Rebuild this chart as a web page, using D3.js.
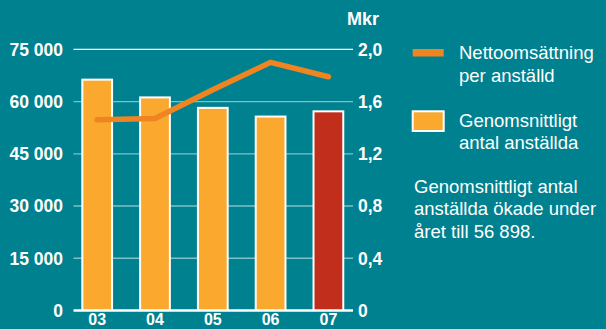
<!DOCTYPE html>
<html>
<head>
<meta charset="utf-8">
<script src="https://cdn.jsdelivr.net/npm/d3@7"></script>
<style>
html,body{margin:0;padding:0;background:#00818F;}
svg{display:block;}
text{font-family:"Liberation Sans",Arial,Helvetica,sans-serif;fill:#fff;}
</style>
</head>
<body>
<svg id="chart" width="606" height="329"></svg>
<script>
const categories = ["03", "04", "05", "06", "07"];
const employees = [66000, 60900, 57900, 55400, 56898];
const revenuePerEmployee = [1.46, 1.47, 1.69, 1.90, 1.79];
const leftTicks = [0, 15000, 30000, 45000, 60000, 75000];
const rightTicks = [0, 0.4, 0.8, 1.2, 1.6, 2.0];
const legendLabels = [["Nettoomsättning", "per anställd"], ["Genomsnittligt", "antal anställda"]];
const noteLines = ["Genomsnittligt antal", "anställda ökade under", "året till 56 898."];

const svg = d3.select("#chart");
const W = 606, H = 329;
svg.append("rect").attr("width", W).attr("height", H).attr("fill", "#00818F");

const y0 = 310.5, yTop = 49.3;
const yL = d3.scaleLinear().domain([0, 75000]).range([y0, yTop]);
const yR = d3.scaleLinear().domain([0, 2.0]).range([y0, yTop]);
const x = d3.scaleBand().domain(categories).range([68.3, 357.3]).paddingInner(0.52).paddingOuter(0.26);

const gx0 = 73.5, gx1 = 353;
const fmtL = d => d3.format(",")(d).replace(/,/g, " ");
const fmtR = d => d === 0 ? "0" : d3.format(".1f")(d).replace(".", ",");

// grid lines
svg.append("g").selectAll("line").data(leftTicks.filter(d => d > 0)).join("line")
  .attr("x1", gx0).attr("x2", gx1)
  .attr("y1", d => yL(d)).attr("y2", d => yL(d))
  .attr("stroke", d => d === 75000 ? "#ffffff" : "rgba(255,255,255,0.5)")
  .attr("stroke-width", 1.3);

// bars (white border + fill)
const bars = svg.append("g");
bars.selectAll("rect.border").data(employees).join("rect").attr("class", "border")
  .attr("x", (d, i) => x(categories[i]) - 2)
  .attr("y", d => yL(d) - 2)
  .attr("width", x.bandwidth() + 4)
  .attr("height", d => y0 - yL(d) + 2)
  .attr("fill", "#ffffff");
bars.selectAll("rect.fill").data(employees).join("rect").attr("class", "fill")
  .attr("x", (d, i) => x(categories[i]))
  .attr("y", d => yL(d))
  .attr("width", x.bandwidth())
  .attr("height", d => y0 - yL(d))
  .attr("fill", (d, i) => i === categories.length - 1 ? "#C12E1B" : "#FAA92E");

// baseline
svg.append("line").attr("x1", gx0).attr("x2", gx1).attr("y1", y0).attr("y2", y0)
  .attr("stroke", "#fff").attr("stroke-width", 2.5);

// line
const line = d3.line()
  .x((d, i) => x(categories[i]) + x.bandwidth() / 2)
  .y(d => yR(d));
svg.append("path").datum(revenuePerEmployee)
  .attr("d", line)
  .attr("fill", "none").attr("stroke", "#F08421")
  .attr("stroke-width", 5.5).attr("stroke-linecap", "round").attr("stroke-linejoin", "miter");

// left axis labels
svg.append("g").selectAll("text").data(leftTicks).join("text")
  .attr("x", 63).attr("y", d => yL(d) + 6.3)
  .attr("text-anchor", "end")
  .style("font-size", "17.5px").style("font-weight", "bold")
  .text(fmtL);

// right axis labels
svg.append("g").selectAll("text").data(rightTicks).join("text")
  .attr("x", 358).attr("y", d => yR(d) + 6.3)
  .attr("text-anchor", "start")
  .style("font-size", "17.5px").style("font-weight", "bold")
  .text(fmtR);

svg.append("text").attr("x", 347).attr("y", 25)
  .style("font-size", "18px").style("font-weight", "bold").text("Mkr");

// x labels
svg.append("g").selectAll("text").data(categories).join("text")
  .attr("x", d => x(d) + x.bandwidth() / 2).attr("y", 325)
  .attr("text-anchor", "middle")
  .style("font-size", "16px").style("font-weight", "bold")
  .text(d => d);

// legend
const lg = svg.append("g");
lg.append("rect").attr("x", 412.7).attr("y", 49).attr("width", 31).attr("height", 7.5).attr("fill", "#F08421");
lg.append("rect").attr("x", 411.7).attr("y", 110.3).attr("width", 33).attr("height", 21.7).attr("fill", "#fff");
lg.append("rect").attr("x", 413.7).attr("y", 112.3).attr("width", 29).attr("height", 17.7).attr("fill", "#FAA92E");
const legBase = [[59.4, 81.6], [127, 149.4]];
legendLabels.forEach((lines, k) => {
  lines.forEach((t, j) => {
    lg.append("text").attr("x", 459).attr("y", legBase[k][j])
      .style("font-size", "18.5px").text(t);
  });
});
noteLines.forEach((t, j) => {
  svg.append("text").attr("x", 414).attr("y", 192.5 + j * 22.8)
    .style("font-size", "18.5px").text(t);
});
</script>
</body>
</html>
